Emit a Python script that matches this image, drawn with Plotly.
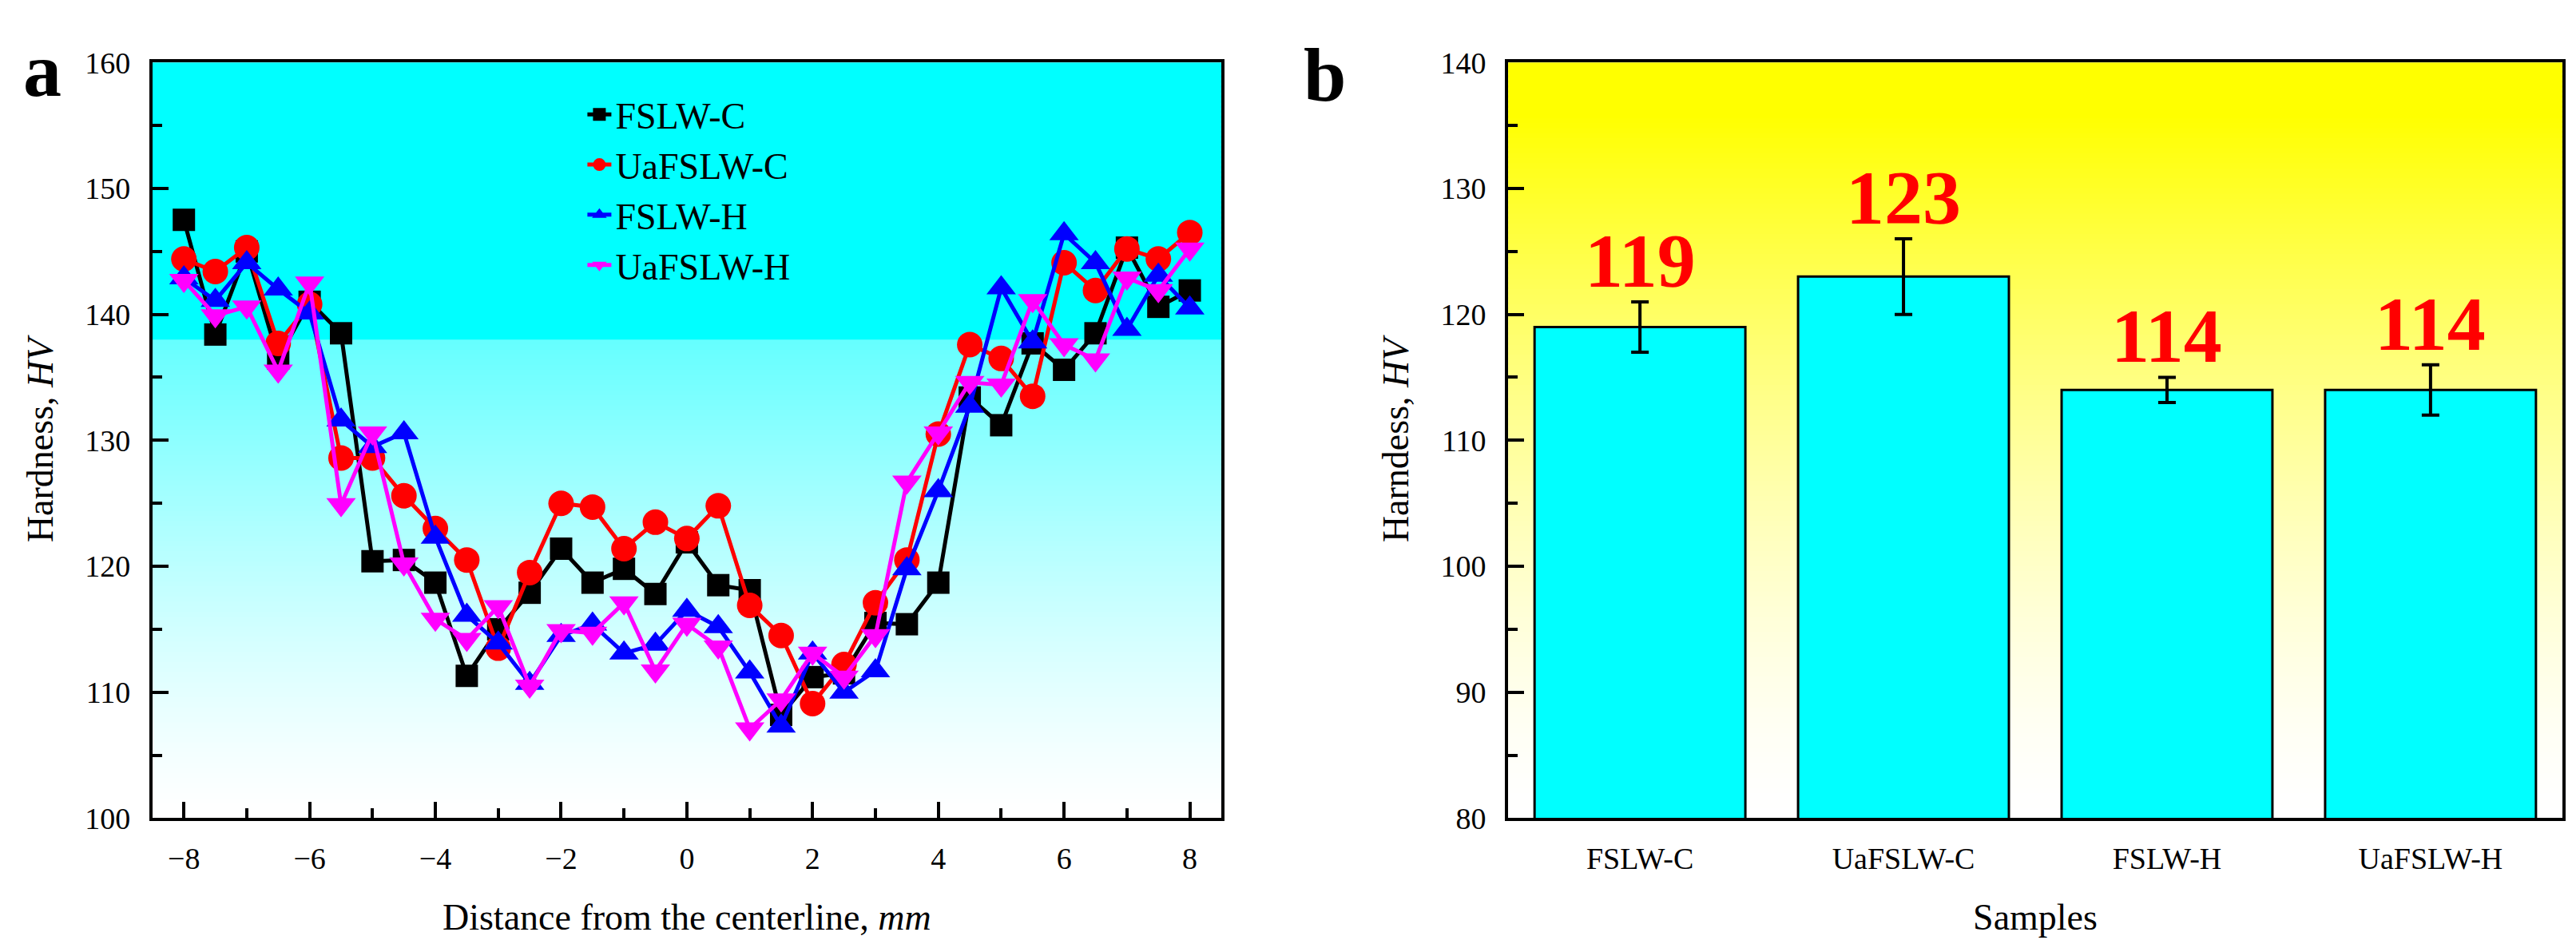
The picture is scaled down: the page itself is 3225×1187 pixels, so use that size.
import plotly.graph_objects as go

# ---- panel a : hardness profiles ----
distance = [-8, -7.5, -7, -6.5, -6, -5.5, -5, -4.5, -4, -3.5, -3, -2.5, -2, -1.5, -1, -0.5,
            0, 0.5, 1, 1.5, 2, 2.5, 3, 3.5, 4, 4.5, 5, 5.5, 6, 6.5, 7, 7.5, 8]

fslw_c = [147.5, 138.4, 145.0, 136.5, 141.0, 138.5, 120.4, 120.5, 118.7, 111.3, 115.0, 117.9,
          121.4, 118.7, 119.8, 117.8, 121.9, 118.5, 118.1, 108.2, 111.2, 111.5, 115.5, 115.4,
          118.7, 133.4, 131.2, 137.7, 135.6, 138.5, 145.3, 140.6, 141.9]
uafslw_c = [144.4, 143.4, 145.3, 137.7, 140.8, 128.6, 128.6, 125.6, 123.0, 120.5, 113.5, 119.5,
            125.0, 124.7, 121.4, 123.5, 122.2, 124.8, 116.9, 114.5, 109.1, 112.2, 117.1, 120.5,
            130.5, 137.6, 136.5, 133.5, 144.1, 141.9, 145.2, 144.4, 146.5]
fslw_h = [142.9, 141.1, 144.1, 142.0, 140.1, 131.6, 129.5, 130.6, 122.3, 116.1, 113.9, 110.7,
          114.5, 115.4, 113.1, 113.8, 116.5, 115.2, 111.6, 107.3, 113.1, 110.0, 111.7, 119.8,
          126.0, 132.7, 142.1, 137.8, 146.4, 144.1, 138.8, 143.1, 140.5]
uafslw_h = [142.7, 139.9, 140.6, 135.5, 142.5, 124.9, 130.6, 120.2, 115.8, 114.2, 116.8, 110.5,
            114.9, 114.7, 117.1, 111.7, 115.4, 113.6, 107.1, 109.4, 113.1, 111.2, 114.5, 126.7,
            130.6, 134.6, 134.4, 141.1, 137.6, 136.4, 142.9, 141.9, 145.2]

series_names = ["FSLW-C", "UaFSLW-C", "FSLW-H", "UaFSLW-H"]
series_vals = [fslw_c, uafslw_c, fslw_h, uafslw_h]
series_colors = ["#000000", "#FF0000", "#0000FF", "#FF00FF"]
series_symbols = ["square", "circle", "triangle-up", "triangle-down"]
series_sizes = [28, 32, 32, 32]

# ---- panel b : average hardness ----
samples = ["FSLW-C", "UaFSLW-C", "FSLW-H", "UaFSLW-H"]
avg_hardness = [119, 123, 114, 114]
hardness_err = [2, 3, 1, 2]

FONT = "Liberation Serif, Times New Roman, serif"

fig = go.Figure()

for name, vals, col, sym, sz in zip(series_names, series_vals, series_colors,
                                    series_symbols, series_sizes):
    fig.add_trace(go.Scatter(
        x=distance, y=vals, name=name, mode="lines+markers",
        line=dict(color=col, width=5),
        marker=dict(color=col, symbol=sym, size=sz, line=dict(width=0)),
        xaxis="x", yaxis="y"))

fig.add_trace(go.Bar(
    x=samples, y=avg_hardness, showlegend=False,
    marker=dict(color="#00FFFF", line=dict(color="black", width=3)),
    error_y=dict(type="data", array=hardness_err, color="black", thickness=4, width=11),
    xaxis="x2", yaxis="y2"))

# red value labels above the error bars
for s, v, e in zip(samples, avg_hardness, hardness_err):
    fig.add_annotation(x=s, y=v + e, xref="x2", yref="y2", text="<b>%d</b>" % v,
                       showarrow=False, yanchor="bottom", yshift=-4,
                       font=dict(family=FONT, size=96, color="#FF0000"))

# gradient backgrounds drawn as thin strips
def cyan_col(t):
    if t >= 0.635:
        r = 0
    else:
        r = 255 - 155 * (t / 0.635) ** 1.3
    return "rgb(%d,255,255)" % round(r)

def yellow_col(t):
    b = max(0.0, 255 * (1 - (t / 0.93) ** 1.5))
    return "rgb(255,255,%d)" % round(b)

N = 150
shapes = []
for i in range(N):
    t = (i + 0.5) / N
    for ax, fn in (("", cyan_col), ("2", yellow_col)):
        shapes.append(dict(type="rect", xref="x%s domain" % ax, yref="y%s domain" % ax,
                           x0=0, x1=1, y0=i / N, y1=min(1, (i + 1) / N + 0.003),
                           fillcolor=fn(t), line=dict(width=0), layer="below"))

tickfont = dict(family=FONT, size=38, color="black")
titlefont = dict(family=FONT, size=46, color="black")
axis_common = dict(showline=True, linecolor="black", linewidth=4, mirror=True,
                   ticks="inside", ticklen=20, tickwidth=4, tickcolor="black",
                   showgrid=False, zeroline=False, tickfont=tickfont)

fig.update_layout(
    width=3225, height=1187,
    margin=dict(l=0, r=0, t=0, b=0),
    paper_bgcolor="white", plot_bgcolor="white",
    font=dict(family=FONT, color="black"),
    shapes=shapes,
    xaxis=dict(domain=[0.0567, 0.4716], range=[-8.5, 8.5], dtick=2, anchor="y",
               minor=dict(dtick=1, ticks="inside", ticklen=12, tickwidth=4, tickcolor="black"),
               ticklabelstandoff=14,
               title=dict(text="Distance from the centerline, <i>mm</i>", font=titlefont, standoff=38),
               **axis_common),
    yaxis=dict(domain=[0.1306, 0.957], range=[100, 160], dtick=10, anchor="x",
               minor=dict(dtick=5, ticks="inside", ticklen=12, tickwidth=4, tickcolor="black"),
               ticklabelstandoff=16,
               title=dict(text="Hardness, <i>HV</i>", font=titlefont, standoff=26),
               **axis_common),
    xaxis2=dict(domain=[0.583, 0.9922], range=[-0.5, 3.5], anchor="y2",
                ticklabelstandoff=14,
                title=dict(text="Samples", font=titlefont, standoff=38),
                **{**axis_common, "ticks": ""}),
    yaxis2=dict(domain=[0.1306, 0.957], range=[80, 140], dtick=10, anchor="x2",
                minor=dict(dtick=5, ticks="inside", ticklen=12, tickwidth=4, tickcolor="black"),
                ticklabelstandoff=16,
                title=dict(text="Harndess, <i>HV</i>", font=titlefont, standoff=26),
                **axis_common),
    bargap=0.2,
    legend=dict(x=0.224, y=0.932, xanchor="left", yanchor="top", bgcolor="rgba(0,0,0,0)",
                font=dict(family=FONT, size=46, color="black"), tracegroupgap=0),
    showlegend=True,
)

# panel letters
fig.add_annotation(x=0.006, y=0.997, xref="paper", yref="paper", text="<b>a</b>",
                   showarrow=False, xanchor="left", yanchor="top",
                   font=dict(family=FONT, size=96, color="black"))
fig.add_annotation(x=0.503, y=0.992, xref="paper", yref="paper", text="<b>b</b>",
                   showarrow=False, xanchor="left", yanchor="top",
                   font=dict(family=FONT, size=96, color="black"))

fig.write_html("out.html")
